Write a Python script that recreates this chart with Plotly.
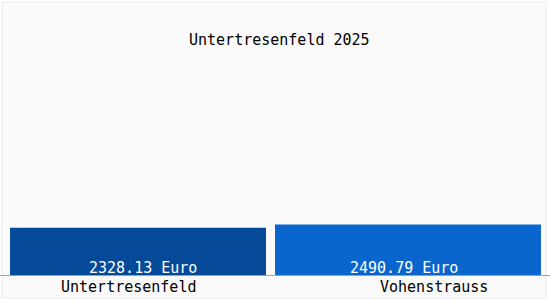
import plotly.graph_objects as go

categories = ["Untertresenfeld", "Vohenstrauss"]
values = [2328.13, 2490.79]
value_labels = ["2328.13 Euro", "2490.79 Euro"]
title_text = "Untertresenfeld 2025"
bar_colors = ["#054a99", "#0a66cc"]
bar_widths = [0.948, 0.985]
positions = [0, 1]

FONT = "DejaVu Sans Mono"

fig = go.Figure()
fig.add_trace(go.Bar(
    x=positions, y=values, width=bar_widths,
    marker=dict(color=bar_colors, line=dict(width=0)),
    hoverinfo="skip", showlegend=False,
))

ann = []
value_shift = [5, -4]
label_shift = [-10, 26]
for i, (p, v) in enumerate(zip(positions, values)):
    ann.append(dict(x=p, y=0, xref="x", yref="y", text=value_labels[i],
                    showarrow=False, yanchor="middle", yshift=7, xshift=value_shift[i],
                    font=dict(family=FONT, size=15, color="white")))
    ann.append(dict(x=p, y=0, xref="x", yref="y", text=categories[i],
                    showarrow=False, yanchor="middle", yshift=-12, xshift=label_shift[i],
                    font=dict(family=FONT, size=15, color="black")))
ann.append(dict(x=0.5, y=1, xref="paper", yref="paper", text=title_text,
                showarrow=False, yanchor="middle", yshift=20, xshift=4,
                font=dict(family=FONT, size=15, color="black")))

fig.update_layout(
    width=550, height=300,
    margin=dict(l=0, r=0, t=60, b=25),
    paper_bgcolor="white", plot_bgcolor="rgba(0,0,0,0)",
    annotations=ann,
    shapes=[dict(type="rect", xref="paper", yref="paper",
                 x0=2/550, x1=546/550, y0=-23/215, y1=273/215,
                 line=dict(color="#ebebeb", width=1), fillcolor="#fafafa",
                 layer="below")],
    xaxis=dict(range=[-138/270, 412/270], showticklabels=False, showgrid=False,
               zeroline=False, showline=True, linecolor="#a0a0a0", linewidth=1,
               fixedrange=True),
    yaxis=dict(range=[0, 10620], showticklabels=False, showgrid=False,
               zeroline=False, showline=False, fixedrange=True),
)

fig.write_html("out.html")
